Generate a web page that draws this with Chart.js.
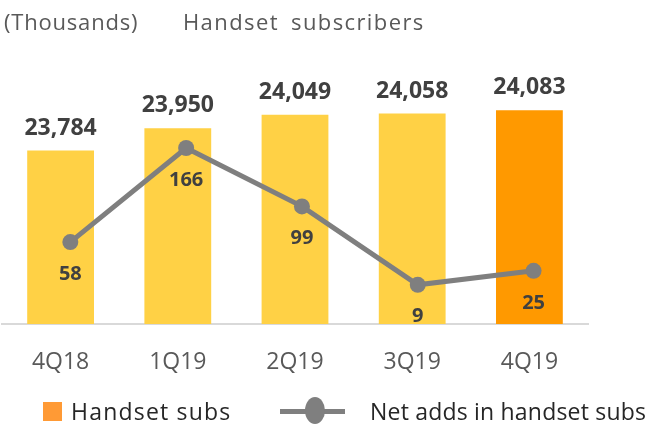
<!DOCTYPE html>
<html>
<head>
<meta charset="utf-8">
<script src="https://cdn.jsdelivr.net/npm/chart.js@4"></script>
<style>
  html, body { margin: 0; padding: 0; background: #fff; }
  #wrap { position: relative; width: 649px; height: 426px; overflow: hidden; font-family: "Open Sans", "Noto Sans", sans-serif; }
  #wrap canvas { position: absolute; left: 0; top: 0; }
  .txt { position: absolute; white-space: nowrap; line-height: 1; }
  .title { color: #595959; font-size: 22px; top: 10px; }
  .leg { color: #262626; font-size: 23px; top: 400px; }
  .sq { position: absolute; left: 43px; top: 402px; width: 19px; height: 19px; background: #FF9A35; }
  .lnk { position: absolute; left: 280px; top: 409px; width: 65px; height: 5px; background: #7F7F7F; }
  .dot { position: absolute; left: 305px; top: 397px; width: 20px; height: 27px; border-radius: 50%; background: #7F7F7F; }
</style>
</head>
<body>
<div id="wrap">
  <canvas id="subsChart" width="649" height="426"></canvas>
  <div class="txt title" style="left:4px; letter-spacing:0.8px;">(Thousands)</div>
  <div class="txt title" style="left:183px; letter-spacing:1.4px; word-spacing:5px;">Handset subscribers</div>
  <div class="sq"></div>
  <div class="txt leg" style="left:71px; letter-spacing:1.2px;">Handset subs</div>
  <div class="lnk"></div>
  <div class="dot"></div>
  <div class="txt leg" style="left:370px; letter-spacing:0.2px;">Net adds in handset subs</div>
</div>
<script>
// Dados
const categories = ['4Q18', '1Q19', '2Q19', '3Q19', '4Q19'];
const handsetSubs = [23784, 23950, 24049, 24058, 24083];
const netAdds = [58, 166, 99, 9, 25];

const FONT = '"Open Sans", "Noto Sans", sans-serif';
const YELLOW = '#FFD145';
const ORANGE = '#FF9900';
const GREY = '#7F7F7F';

// value labels (no datalabels plugin available offline)
const valueLabels = {
    id: 'valueLabels',
    afterDatasetsDraw(chart) {
        const ctx = chart.ctx;
        ctx.save();
        ctx.fillStyle = '#404040';
        ctx.textAlign = 'center';
        ctx.textBaseline = 'alphabetic';

        const barMeta = chart.getDatasetMeta(1);
        ctx.font = 'bold 23px ' + FONT;
        barMeta.data.forEach((bar, i) => {
            ctx.fillText(handsetSubs[i].toLocaleString('en-US'), bar.x, bar.y - 16);
        });

        const lineMeta = chart.getDatasetMeta(0);
        ctx.font = 'bold 20px ' + FONT;
        ctx.textBaseline = 'middle';
        lineMeta.data.forEach((pt, i) => {
            ctx.fillText(String(netAdds[i]), pt.x, pt.y + 32);
        });
        ctx.restore();
    }
};

new Chart(document.getElementById('subsChart').getContext('2d'), {
    type: 'bar',
    data: {
        labels: categories,
        datasets: [
            {
                type: 'line',
                label: 'Net adds in handset subs',
                data: netAdds.map((v, i) => ({ x: i, y: v })),
                xAxisID: 'x2',
                yAxisID: 'y1',
                borderColor: GREY,
                borderWidth: 5,
                pointRadius: 8,
                pointBackgroundColor: GREY,
                pointBorderWidth: 0,
                tension: 0,
                order: 0
            },
            {
                label: 'Handset subs',
                data: handsetSubs,
                xAxisID: 'x',
                yAxisID: 'y',
                backgroundColor: ctx => ctx.dataIndex === categories.length - 1 ? ORANGE : YELLOW,
                grouped: false,
                categoryPercentage: 1,
                barPercentage: 0.57,
                order: 1
            }
        ]
    },
    options: {
        responsive: false,
        animation: false,
        layout: { autoPadding: false, padding: { left: 2, right: 61, top: 60, bottom: 0 } },
        plugins: {
            legend: { display: false },
            tooltip: { enabled: false }
        },
        scales: {
            x: {
                type: 'category',
                grid: { display: false, drawTicks: false },
                border: { color: '#D9D9D9', width: 2 },
                ticks: { color: '#595959', font: { size: 23, family: FONT }, padding: 25 },
                afterFit: s => { s.height = 102; }
            },
            x2: { type: 'linear', display: false, offset: false, min: -0.59, max: 4.47 },
            y: { display: false, min: 22500, max: 24455 },
            y1: { display: false, min: -36, max: 267 }
        }
    },
    plugins: [valueLabels]
});
</script>
</body>
</html>
